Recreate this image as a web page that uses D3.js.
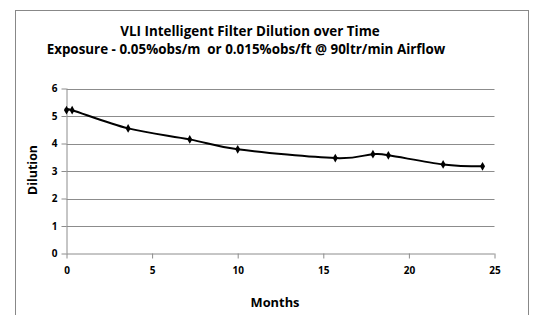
<!DOCTYPE html>
<html><head><meta charset="utf-8">
<script src="https://cdn.jsdelivr.net/npm/d3@7"></script>
<style>body{margin:0;background:#fff}svg{display:block}text{font-family:"Open Sans","Liberation Sans",sans-serif;font-weight:bold;fill:#000}</style>
</head><body>
<script>
const months   = [0, 0.33, 3.6, 7.2, 10.0, 15.7, 17.9, 18.8, 22.0, 24.3];
const dilution = [5.21, 5.21, 4.55, 4.15, 3.79, 3.47, 3.61, 3.57, 3.24, 3.17];
const xTicks = [0, 5, 10, 15, 20, 25];
const yTicks = [0, 1, 2, 3, 4, 5, 6];
const titleLines = ["VLI Intelligent Filter Dilution over Time", "Exposure - 0.05%obs/m  or 0.015%obs/ft @ 90ltr/min Airflow"];

const W = 534, H = 315;
const svg = d3.select("body").append("svg").attr("width", W).attr("height", H);
svg.append("rect").attr("x", 15.5).attr("y", 10.5).attr("width", 513).attr("height", 320)
  .attr("fill", "#fff").attr("stroke", "#888").attr("stroke-width", 1);

const x = d3.scaleLinear().domain([0, 25]).range([66.5, 494.5]);
const y = d3.scaleLinear().domain([0, 6]).range([253.5, 88.5]);

// grid
svg.append("g").selectAll("line").data(yTicks.filter(d => d > 0)).join("line")
  .attr("x1", x(0)).attr("x2", x(25)).attr("y1", d => Math.round(y(d)) + 0.5).attr("y2", d => Math.round(y(d)) + 0.5)
  .attr("stroke", "#8c8c8c").attr("stroke-width", 1);

const fitText = (sel, target, size) => {
  sel.attr("font-size", size);
  const w = sel.node().getComputedTextLength();
  const s = size * target / w;
  sel.attr("font-size", s);
  return s;
};

const yAxis = svg.append("g").attr("transform", `translate(${x(0)},0)`)
  .call(d3.axisLeft(y).tickValues(yTicks).tickSize(5).tickPadding(4).tickFormat(d3.format("d")));
const xAxis = svg.append("g").attr("transform", `translate(0,${y(0)})`)
  .call(d3.axisBottom(x).tickValues(xTicks).tickSize(5).tickPadding(8).tickFormat(d3.format("d")));
[yAxis, xAxis].forEach(a => {
  a.select(".domain").attr("stroke", "#8c8c8c");
  a.selectAll(".tick line").attr("stroke", "#8c8c8c");
  a.selectAll("text").attr("font-size", 10).attr("font-family", "'Open Sans',sans-serif").attr("font-weight", "bold");
});
xAxis.select(".domain").attr("d", `M${x(0)},0.5H${x(25)}`);
yAxis.select(".domain").attr("d", `M0.5,${y(0)}V${y(6)}`);

const pts = months.map((m, i) => [m, dilution[i]]);
svg.append("path").datum(pts)
  .attr("d", d3.line().x(d => x(d[0])).y(d => y(d[1])).curve(d3.curveCatmullRom.alpha(0)))
  .attr("fill", "none").attr("stroke", "#000").attr("stroke-width", 2);
svg.append("g").selectAll("path").data(pts).join("path")
  .attr("transform", d => `translate(${x(d[0])},${y(d[1])})`)
  .attr("d", d3.symbol(d3.symbolDiamond, 22)).attr("fill", "#000");

const t2 = svg.append("text").attr("x", 246).attr("y", 54).attr("text-anchor", "middle")
  .style("white-space", "pre").text(titleLines[1]);
const ts = fitText(t2, 399, 12);
svg.append("text").attr("x", 250).attr("y", 36).attr("text-anchor", "middle")
  .attr("font-size", ts).text(titleLines[0]);

const yl = svg.append("text").attr("transform", "translate(37,170) rotate(-90)").attr("text-anchor", "middle").text("Dilution");
fitText(yl, 50, 12);
const xl = svg.append("text").attr("x", 275).attr("y", 307).attr("text-anchor", "middle").text("Months");
fitText(xl, 49, 12);
</script>
</body></html>
